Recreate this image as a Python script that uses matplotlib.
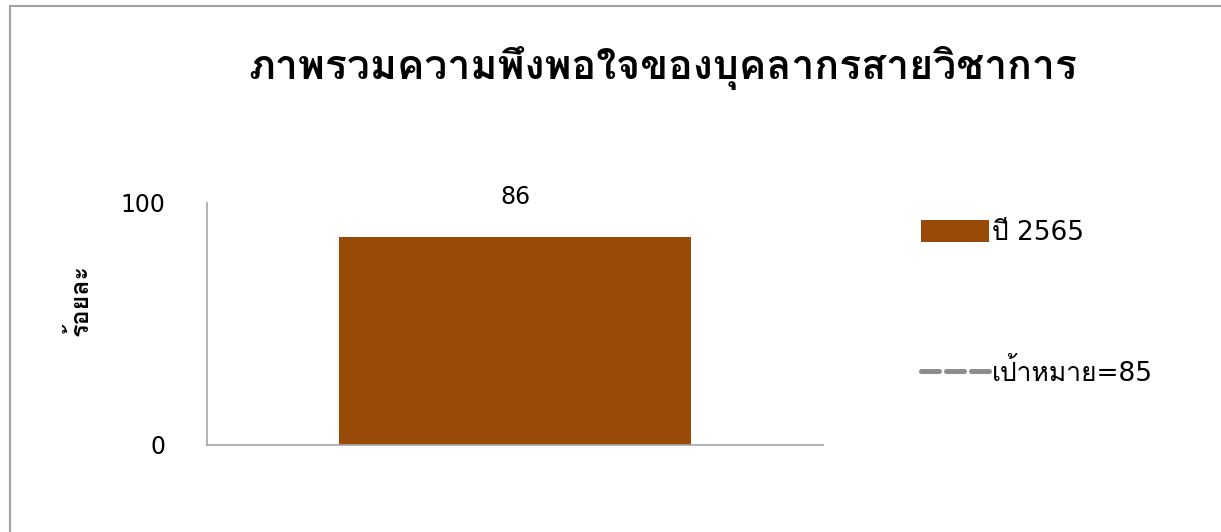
import matplotlib
matplotlib.use('Agg')
import matplotlib.pyplot as plt
from matplotlib import font_manager
from matplotlib.patches import Rectangle
from fontTools.ttLib import TTFont

# ข้อมูล
categories = ['ปี 2565']
values = [86]
target = [85]
target_label = 'เป้าหมาย=85'
title = 'ภาพรวมความพึงพอใจของบุคลากรสายวิชาการ'
ylabel = 'ร้อยละ'

# หา font ที่มีอักษรไทย
thai_font = None
for f in font_manager.fontManager.ttflist:
    try:
        cmap = TTFont(f.fname, fontNumber=0, lazy=True).getBestCmap()
        if cmap and 0x0E20 in cmap:
            thai_font = f.name
            break
    except Exception:
        pass
fams = ['DejaVu Sans', thai_font] if thai_font else ['DejaVu Sans']
plt.rcParams['font.family'] = fams

fig = plt.figure(figsize=(12.21, 5.32), dpi=100)
ax = fig.add_axes([207/1221, 1-445/532, 616/1221, 242/532])

bars = ax.bar([0], values, width=0.57, color='#994908', label=categories[0])
line, = ax.plot([0], target, linestyle=(0, (3.6, 1.4)), color='#8c8c8c', lw=3.6,
                dash_capstyle='round', label=target_label)

for b, v in zip(bars, values):
    ax.text(b.get_x() + b.get_width()/2, 102.5, str(v), ha='center', va='center',
            fontsize=17)

ax.set_xlim(-0.5, 0.5)
ax.set_ylim(0, 100)
ax.set_yticks([0, 100])
ax.set_xticks([])
ax.tick_params(axis='y', length=0, pad=30, labelsize=17)
for s in ['top', 'right']:
    ax.spines[s].set_visible(False)
for s in ['left', 'bottom']:
    ax.spines[s].set_color('#a6a6a6')
    ax.spines[s].set_linewidth(1.2)

fig.text(80/1221, 1-300/532, ylabel, rotation=90, ha='center', va='center',
         fontsize=18, fontweight='bold')
fig.text(663/1221, 1-68/532, title, ha='center', va='center',
         fontsize=29.5, fontweight='bold')

ax.legend([bars, line], [categories[0], target_label],
          loc='upper left', bbox_to_anchor=(897/1221, 1-196/532),
          bbox_transform=fig.transFigure, frameon=False, fontsize=19,
          handlelength=2.6, handleheight=0.9, labelspacing=4.3,
          handletextpad=0.1)

fig.patches.append(Rectangle((10/1221, -0.1), 1.2, 1.1 - 5.5/532,
                             transform=fig.transFigure, fill=False,
                             edgecolor='#a0a0a0', lw=1.5, clip_on=False))

fig.savefig('out.png', dpi=100)
